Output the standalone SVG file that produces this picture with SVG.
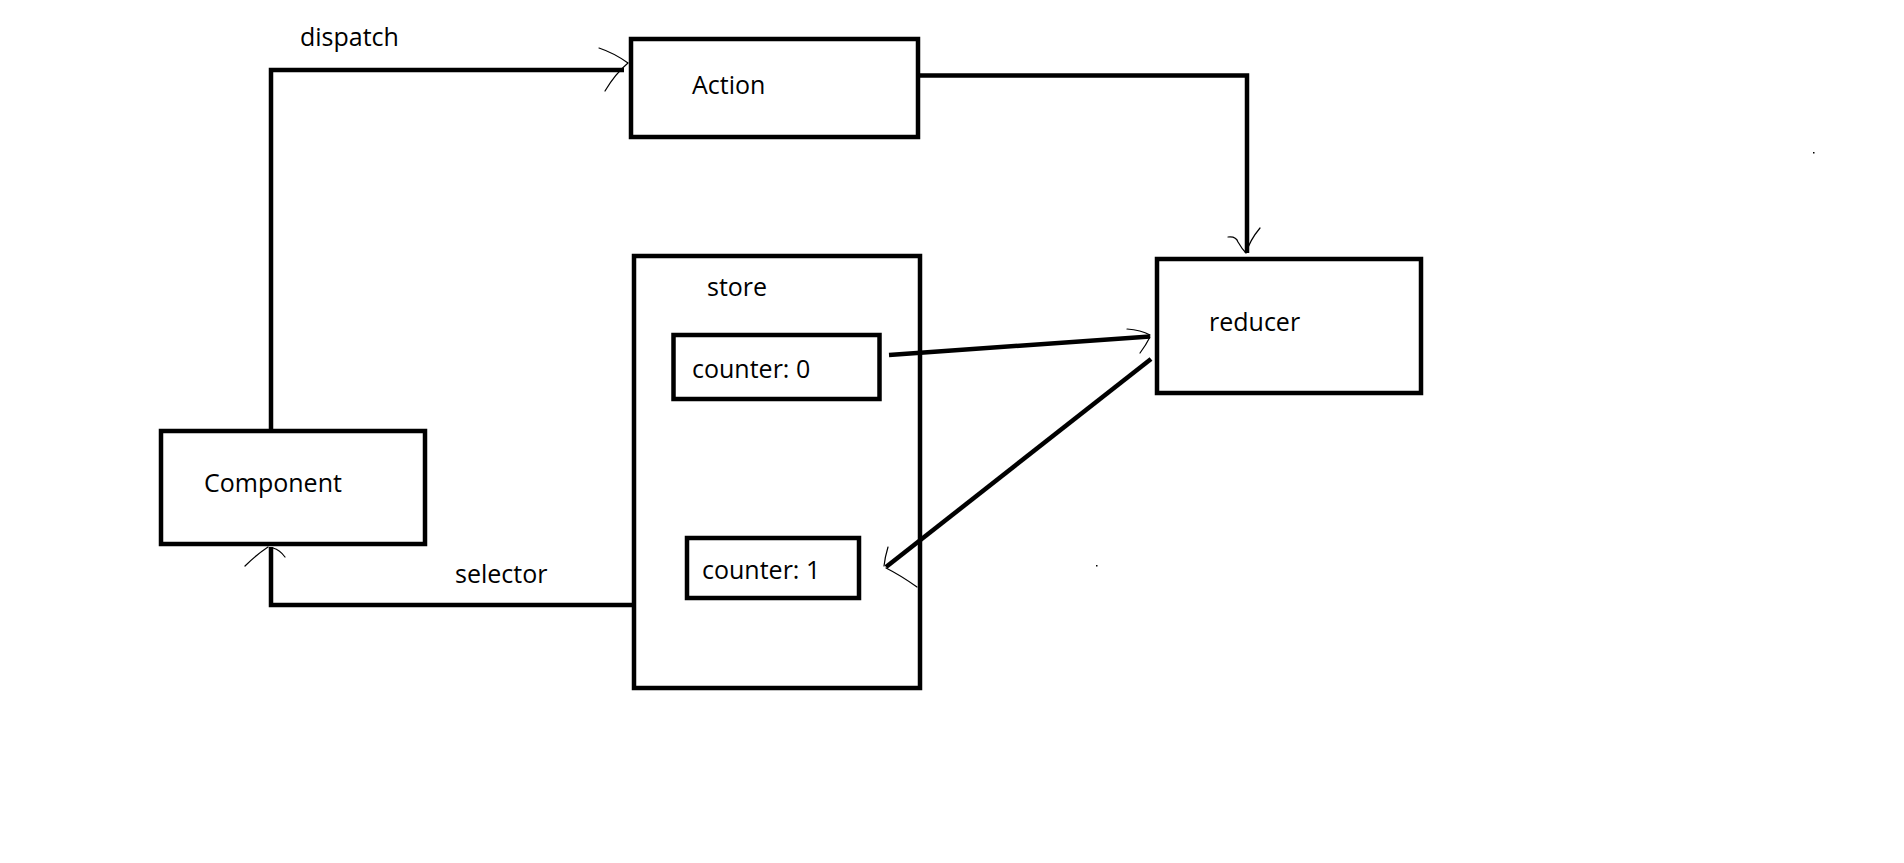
<svg xmlns="http://www.w3.org/2000/svg" width="1904" height="863" viewBox="0 0 1904 863">
  <style>
    .box { fill: none; stroke: #000; stroke-width: 4.5; }
    .wire { fill: none; stroke: #000; stroke-width: 4.5; stroke-linejoin: miter; stroke-linecap: butt; }
    .head { fill: none; stroke: #000; stroke-width: 1.2; stroke-linecap: round; }
    .label { font-family: "Open Sans", "Noto Sans", "DejaVu Sans", sans-serif; font-size: 25px; fill: #000; }
  </style>
  <rect width="1904" height="863" fill="#fff"/>

  <g id="component">
    <rect class="box" x="161" y="431" width="264" height="113"/>
    <text class="label" x="204" y="492">Component</text>
  </g>

  <g id="action">
    <rect class="box" x="631" y="39" width="287" height="98"/>
    <text class="label" x="692" y="94">Action</text>
  </g>

  <g id="store">
    <rect class="box" x="634" y="256" width="286" height="432"/>
    <text class="label" x="707" y="296">store</text>
  </g>

  <g id="counter-0">
    <rect class="box" x="673.5" y="335" width="206" height="64"/>
    <text class="label" x="692" y="378">counter: 0</text>
  </g>

  <g id="counter-1">
    <rect class="box" x="687" y="538" width="172" height="60"/>
    <text class="label" x="702" y="579">counter: 1</text>
  </g>

  <g id="reducer">
    <rect class="box" x="1157" y="259" width="264" height="134"/>
    <text class="label" x="1209" y="331">reducer</text>
  </g>

  <g id="connectors">
    <!-- dispatch: Component -> Action -->
    <path class="wire" d="M271,431 V70 H624"/>
    <path class="head" d="M599,48 Q614,53 628,63 M605,91 Q615,74 628,63"/>
    <text class="label" x="300" y="46">dispatch</text>

    <!-- Action -> reducer -->
    <path class="wire" d="M920,75.5 H1247 V253"/>
    <path class="head" d="M1228,237 Q1236,236 1238,242 Q1242,249 1246,253 M1260,228 Q1250,240 1246,253"/>

    <!-- counter: 0 -> reducer -->
    <path class="wire" d="M889,355 L1150,336.5"/>
    <path class="head" d="M1127,329 Q1141,330 1150,335 M1140,353 Q1146,345 1150,337"/>

    <!-- reducer -> counter: 1 -->
    <path class="wire" d="M1151,359 L886,567"/>
    <path class="head" d="M888,547 Q885,557 884,566 M917,587 Q900,575 886,568"/>

    <!-- selector: store -> Component -->
    <path class="wire" d="M632,605 H271 V547"/>
    <path class="head" d="M245,566 Q256,555 268,547 M285,557 Q280,550 273,548"/>
    <text class="label" x="455" y="583">selector</text>
  </g>

  <!-- stray specks -->
  <rect x="1813" y="152" width="1.5" height="1.5" fill="#000"/>
  <rect x="1096" y="565" width="1.5" height="1.5" fill="#000"/>
</svg>
